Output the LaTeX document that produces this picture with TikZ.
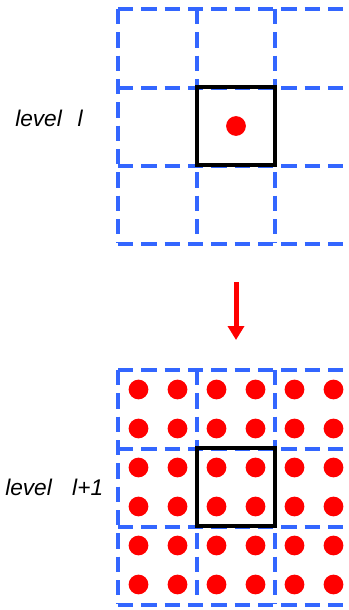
\documentclass[tikz,border=0pt]{standalone}
\usepackage{fontspec}
\setsansfont{Liberation Sans}
\usetikzlibrary{arrows.meta}

\definecolor{gridblue}{RGB}{51,102,255}

\begin{document}
\begin{tikzpicture}[
  x=0.75pt, y=-0.75pt,
  lbl/.style={font=\sffamily\itshape\fontsize{17}{20}\selectfont, anchor=base west, inner sep=0pt},
  grd/.style={draw=gridblue, line width=2.6pt, dash pattern=on 11.5pt off 6pt},
  cellbox/.style={draw=black, line width=2.6pt},
  dot/.style={circle, fill=red, minimum size=14.8pt, inner sep=0pt},
  arr/.style={-{Triangle[length=10.5pt, width=12pt]}, red, line width=3.75pt}
]
  \useasboundingbox (0,0) rectangle (349,610);
  \clip (0,0) rectangle (349,610);

  % level l
  \foreach \v in {118,197,275,353} {
    \draw[grd] (\v,9) -- (\v,243);
    \draw[grd] (118,\v-109) -- (353,\v-109);
  }
  \draw[cellbox] (197,87) rectangle (275,165);
  \node[dot] (p) at (236,126) {};
  \node[lbl] (lvtop) at (15,126) {level\hspace{0.7em}l};

  % refinement
  \coordinate (arrtop) at (236,282);
  \coordinate (arrtip) at (236,340);
  \draw[arr] (arrtop) -- (arrtip);

  % level l+1
  \foreach \v in {118,197,275,353} {
    \draw[grd] (\v,370) -- (\v,604);
    \draw[grd] (118,\v+252) -- (353,\v+252);
  }
  \draw[cellbox] (197,448) rectangle (275,526);
  \foreach \i in {0,...,5} {
    \foreach \j in {0,...,5} {
      \node[dot] (q-\i-\j) at (138.5+39*\i,389.5+39*\j) {};
    }
  }
  \node[lbl] (lvbot) at (5,495) {level\hspace{0.9em}l+1};
\end{tikzpicture}
\end{document}
